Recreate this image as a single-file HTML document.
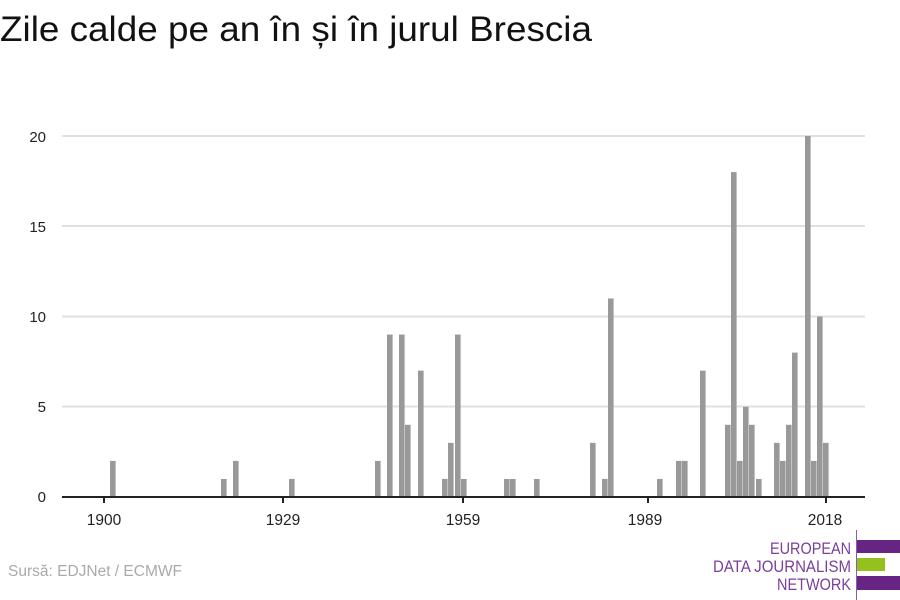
<!DOCTYPE html>
<html><head><meta charset="utf-8"><style>
html,body{margin:0;padding:0;background:#fff;width:900px;height:600px;overflow:hidden}
</style></head><body>
<svg width="900" height="600" xmlns="http://www.w3.org/2000/svg" font-family="'Liberation Sans',sans-serif">
<text x="0" y="41" font-size="35" fill="#111" textLength="592" lengthAdjust="spacingAndGlyphs">Zile calde pe an în și în jurul Brescia</text>
<g stroke="#e0e0e0" stroke-width="2">
<line x1="62" x2="865" y1="136" y2="136"/>
<line x1="62" x2="865" y1="226" y2="226"/>
<line x1="62" x2="865" y1="316.5" y2="316.5"/>
<line x1="62" x2="865" y1="406.5" y2="406.5"/>
</g>
<g font-size="15" fill="#222" text-anchor="end">
<text x="46" y="142">20</text><text x="46" y="232">15</text><text x="46" y="322">10</text><text x="46" y="412">5</text><text x="46" y="502">0</text>
</g>
<g fill="#999" id="bars"></g>
<line x1="62" x2="865" y1="497" y2="497" stroke="#222" stroke-width="2"/>
<g stroke="#222" stroke-width="2">
<line x1="104" x2="104" y1="497" y2="503"/><line x1="283" x2="283" y1="497" y2="503"/><line x1="463" x2="463" y1="497" y2="503"/><line x1="648" x2="648" y1="497" y2="503"/><line x1="826" x2="826" y1="497" y2="503"/>
</g>
<g font-size="15.5" fill="#222" text-anchor="middle">
<text x="104" y="525">1900</text><text x="283" y="525">1929</text><text x="463" y="525">1959</text><text x="645" y="525">1989</text><text x="825" y="525">2018</text>
</g>
<text x="8" y="576" font-size="15.5" fill="#aaa">Sursă: EDJNet / ECMWF</text>
<line x1="856.5" x2="856.5" y1="530" y2="600" stroke="#8a5cb0" stroke-width="1"/>
<rect x="857" y="540" width="43" height="13" fill="#662483"/>
<rect x="857" y="558" width="28" height="13" fill="#95c11f"/>
<rect x="857" y="576" width="43" height="14" fill="#662483"/>
<g font-size="17" fill="#7a3f9a">
<text x="770" y="554" textLength="81" lengthAdjust="spacingAndGlyphs">EUROPEAN</text><text x="713" y="572" textLength="138" lengthAdjust="spacingAndGlyphs">DATA JOURNALISM</text><text x="777" y="590" textLength="74" lengthAdjust="spacingAndGlyphs">NETWORK</text>
</g>
</svg>
<script>
var d=[[110,2],[221,1],[233,2],[289,1],[375,2],[387,9],[399,9],[405,4],[418,7],[442,1],[448,3],[455,9],[461,1],[504,1],[510,1],[534,1],[590,3],[602,1],[608,11],[657,1],[676,2],[682,2],[700,7],[725,4],[731,18],[737,2],[743,5],[749,4],[756,1],[774,3],[780,2],[786,4],[792,8],[805,20],[811,2],[817,10],[823,3]];
var g=document.getElementById('bars'),s='';
d.forEach(function(b){var h=b[1]*18.05;s+='<rect x="'+b[0]+'" y="'+(497-h)+'" width="5.6" height="'+h+'"/>';});
g.innerHTML=s;
</script>
</body></html>
